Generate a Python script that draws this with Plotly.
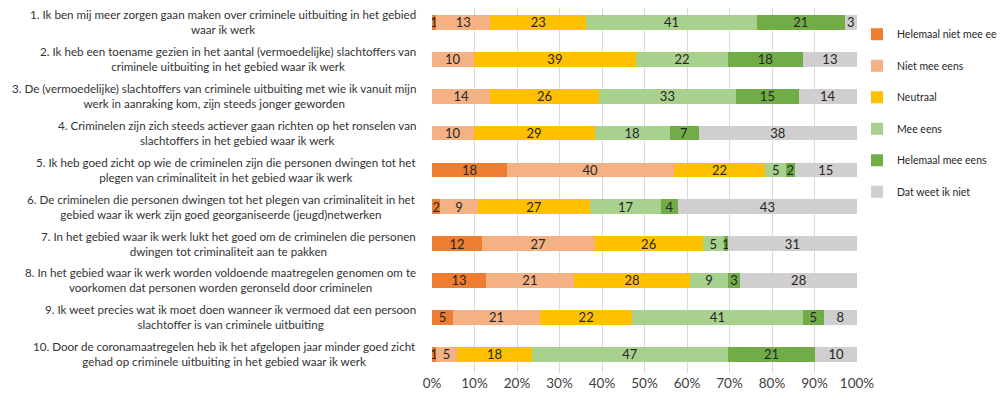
import plotly.graph_objects as go

statements = [
    "1. Ik ben mij meer zorgen gaan maken over criminele uitbuiting in het gebied<br>waar ik werk",
    "2. Ik heb een toename gezien in het aantal (vermoedelijke) slachtoffers van<br>criminele uitbuiting in het gebied waar ik werk",
    "3. De (vermoedelijke) slachtoffers van criminele uitbuiting met wie ik vanuit mijn<br>werk in aanraking kom, zijn steeds jonger geworden",
    "4. Criminelen zijn zich steeds actiever gaan richten op het ronselen van<br>slachtoffers in het gebied waar ik werk",
    "5. Ik heb goed zicht op wie de criminelen zijn die personen dwingen tot het<br>plegen van criminaliteit in het gebied waar ik werk",
    "6. De criminelen die personen dwingen tot het plegen van criminaliteit in het<br>gebied waar ik werk zijn goed georganiseerde (jeugd)netwerken",
    "7. In het gebied waar ik werk lukt het goed om de criminelen die personen<br>dwingen tot criminaliteit aan te pakken",
    "8. In het gebied waar ik werk worden voldoende maatregelen genomen om te<br>voorkomen dat personen worden geronseld door criminelen",
    "9. Ik weet precies wat ik moet doen wanneer ik vermoed dat een persoon<br>slachtoffer is van criminele uitbuiting",
    "10. Door de coronamaatregelen heb ik het afgelopen jaar minder goed zicht<br>gehad op criminele uitbuiting in het gebied waar ik werk",
]
categories = [f"s{i+1}" for i in range(len(statements))]

series_names = ["Helemaal niet mee eens", "Niet mee eens", "Neutraal",
                "Mee eens", "Helemaal mee eens", "Dat weet ik niet"]
helemaal_niet = [1, 0, 0, 0, 18, 2, 12, 13, 5, 1]
niet = [13, 10, 14, 10, 40, 9, 27, 21, 21, 5]
neutraal = [23, 39, 26, 29, 22, 27, 26, 28, 22, 18]
mee = [41, 22, 33, 18, 5, 17, 5, 9, 41, 47]
helemaal_mee = [21, 18, 15, 7, 2, 4, 1, 3, 5, 21]
weet_niet = [3, 13, 14, 38, 15, 43, 31, 28, 8, 10]
series_values = [helemaal_niet, niet, neutraal, mee, helemaal_mee, weet_niet]
colors = ["#ED7D31", "#F4B183", "#FFC000", "#A9D18E", "#70AD47", "#D0CECE"]

x_ticks = list(range(0, 101, 10))
x_tick_labels = [f"{v}%" for v in x_ticks]

fig = go.Figure()
for name, vals, col in zip(series_names, series_values, colors):
    fig.add_trace(go.Bar(
        y=categories, x=vals, name=name, orientation="h",
        marker=dict(color=col, line=dict(width=0)),
        text=[str(v) if v else "" for v in vals],
        textposition="inside", insidetextanchor="middle", textangle=0,
        textfont=dict(color="#262626", size=13, family="Lato"),
        legendgroup=name,
    ))

for cat, lab in zip(categories, statements):
    fig.add_annotation(
        x=-0.033, xref="paper", y=cat, yref="y", text=lab,
        xanchor="right", yanchor="middle", align="center", showarrow=False,
        font=dict(size=11.6, color="#333333", family="Lato"),
    )

fig.update_layout(
    width=1005, height=400,
    barmode="stack", barnorm="percent", bargap=0.6,
    plot_bgcolor="white", paper_bgcolor="white",
    margin=dict(l=424, r=156, t=0, b=35, autoexpand=False),
    uniformtext=dict(minsize=13, mode="show"),
    font=dict(family="Lato", color="#404040"),
    legend=dict(x=1.0, xanchor="left", y=0.968, yanchor="top",
                bgcolor="rgba(0,0,0,0)",
                traceorder="grouped", tracegroupgap=12.5,
                font=dict(size=10.5, color="#262626", family="Lato"),
                itemwidth=30),
    showlegend=True,
)
fig.update_xaxes(range=[0, 100], tickvals=x_ticks, ticktext=x_tick_labels,
                 showgrid=True, gridcolor="#D9D9D9", gridwidth=1,
                 zeroline=False, showline=False,
                 tickfont=dict(size=13.5, color="#404040"))
fig.update_yaxes(categoryorder="array", categoryarray=categories,
                 range=[9.51, -0.393], showticklabels=False,
                 showgrid=False, zeroline=False)

fig.write_html("out.html")
